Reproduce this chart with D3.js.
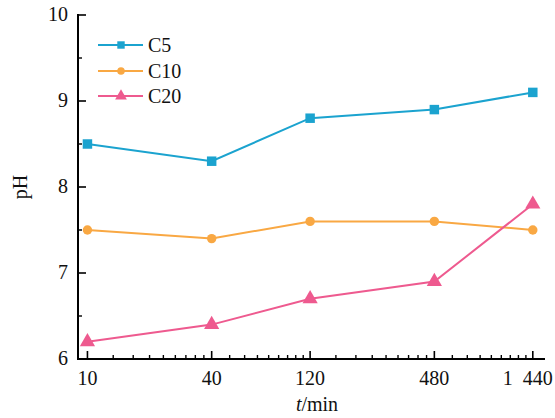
<!DOCTYPE html>
<html>
<head>
<meta charset="utf-8">
<script src="https://cdn.jsdelivr.net/npm/d3@7"></script>
<style>
  html, body { margin: 0; padding: 0; background: #fff; }
  svg { display: block; }
</style>
</head>
<body>
<div id="chart"></div>
<script>
// ---- data ----
const times = [10, 40, 120, 480, 1440];
const tickLabels = ["10", "40", "120", "480", "1\u00a0\u00a0440"];
const seriesNames = ["C5", "C10", "C20"];
const c5 = [8.5, 8.3, 8.8, 8.9, 9.1];
const c10 = [7.5, 7.4, 7.6, 7.6, 7.5];
const c20 = [6.2, 6.4, 6.7, 6.9, 7.8];
const yTicks = [6, 7, 8, 9, 10];
const yMinorTicks = [6.5, 7.5, 8.5, 9.5];
const xDomain = [9, 1650];
const yDomain = [6, 10];

// ---- layout ----
const W = 555, H = 418;
const mLeft = 78, mRight = 545, mTop = 15, mBottom = 359;
const colors = ["#1ba3cf", "#f9a843", "#ee5a8f"];
const symbols = [d3.symbolSquare, d3.symbolCircle, d3.symbolTriangle];
const symSizes = [90, 70, 100];
const legSizes = [55, 45, 60];
const FONT = "'Liberation Serif', 'Times New Roman', 'DejaVu Serif', serif";

const svg = d3.select("#chart").append("svg").attr("width", W).attr("height", H)
  .attr("font-family", FONT).style("font-family", FONT);

const x = d3.scaleLog().domain(xDomain).range([mLeft, mRight]);
const y = d3.scaleLinear().domain(yDomain).range([mBottom, mTop]);

// minor x ticks: 8 evenly spaced values between consecutive majors
const xMinor = [];
for (let i = 0; i < times.length - 1; i++) {
  const a = times[i], b = times[i + 1];
  for (let k = 1; k <= 8; k++) xMinor.push(a + (b - a) * k / 9);
}

// axes
const axisG = svg.append("g");
axisG.append("line").attr("x1", mLeft).attr("x2", mRight).attr("y1", mBottom).attr("y2", mBottom)
  .attr("stroke", "#000").attr("stroke-width", 2);
axisG.append("line").attr("x1", mLeft).attr("x2", mLeft).attr("y1", mTop - 1).attr("y2", mBottom + 1)
  .attr("stroke", "#000").attr("stroke-width", 2);

// x ticks
axisG.selectAll(".xt").data(times).enter().append("line")
  .attr("x1", d => x(d)).attr("x2", d => x(d)).attr("y1", mBottom).attr("y2", mBottom - 8)
  .attr("stroke", "#000").attr("stroke-width", 1.6);
axisG.selectAll(".xm").data(xMinor).enter().append("line")
  .attr("x1", d => x(d)).attr("x2", d => x(d)).attr("y1", mBottom).attr("y2", mBottom - 4)
  .attr("stroke", "#000").attr("stroke-width", 1.4);
axisG.selectAll(".xl").data(times).enter().append("text")
  .attr("x", d => x(d)).attr("y", mBottom + 26).attr("text-anchor", "middle")
  .attr("dx", (d, i) => i === times.length - 1 ? -5 : 0)
  .attr("font-size", 20).attr("fill", "#111").text((d, i) => tickLabels[i]);

// y ticks
axisG.selectAll(".yt").data(yTicks).enter().append("line")
  .attr("x1", mLeft).attr("x2", mLeft + 8).attr("y1", d => y(d)).attr("y2", d => y(d))
  .attr("stroke", "#000").attr("stroke-width", 1.6);
axisG.selectAll(".ym").data(yMinorTicks).enter().append("line")
  .attr("x1", mLeft).attr("x2", mLeft + 4).attr("y1", d => y(d)).attr("y2", d => y(d))
  .attr("stroke", "#000").attr("stroke-width", 1.4);
axisG.selectAll(".yl").data(yTicks).enter().append("text")
  .attr("x", mLeft - 10).attr("y", d => y(d) + 6).attr("text-anchor", "end")
  .attr("font-size", 20).attr("fill", "#111").text(d => d);

// axis titles
svg.append("text").attr("transform", `translate(27,${(mTop + mBottom) / 2}) rotate(-90)`)
  .attr("text-anchor", "middle").attr("font-size", 20).attr("fill", "#111").text("pH");
const xt = svg.append("text").attr("x", 317).attr("y", 411).attr("text-anchor", "middle")
  .attr("font-size", 20).attr("fill", "#111");
xt.append("tspan").attr("font-style", "italic").text("t");
xt.append("tspan").text("/min");

// series
const allSeries = [c5, c10, c20];
const line = d3.line().x((d, i) => x(times[i])).y(d => y(d));
allSeries.forEach((vals, s) => {
  const g = svg.append("g");
  g.append("path").datum(vals).attr("d", line).attr("fill", "none")
    .attr("stroke", colors[s]).attr("stroke-width", 2);
  g.selectAll("path.m").data(vals).enter().append("path").attr("class", "m")
    .attr("transform", (d, i) => `translate(${x(times[i])},${y(d)})`)
    .attr("d", d3.symbol().type(symbols[s]).size(symSizes[s]))
    .attr("fill", colors[s]);
});

// legend
const legY = [45, 71, 96];
seriesNames.forEach((name, s) => {
  const g = svg.append("g").attr("transform", `translate(0,${legY[s]})`);
  g.append("line").attr("x1", 98).attr("x2", 143).attr("y1", 0).attr("y2", 0)
    .attr("stroke", colors[s]).attr("stroke-width", 2);
  g.append("path").attr("transform", "translate(121,0)")
    .attr("d", d3.symbol().type(symbols[s]).size(legSizes[s])).attr("fill", colors[s]);
  g.append("text").attr("x", 148).attr("y", 7).attr("font-size", 20).attr("fill", "#111").text(name);
});
</script>
</body>
</html>
